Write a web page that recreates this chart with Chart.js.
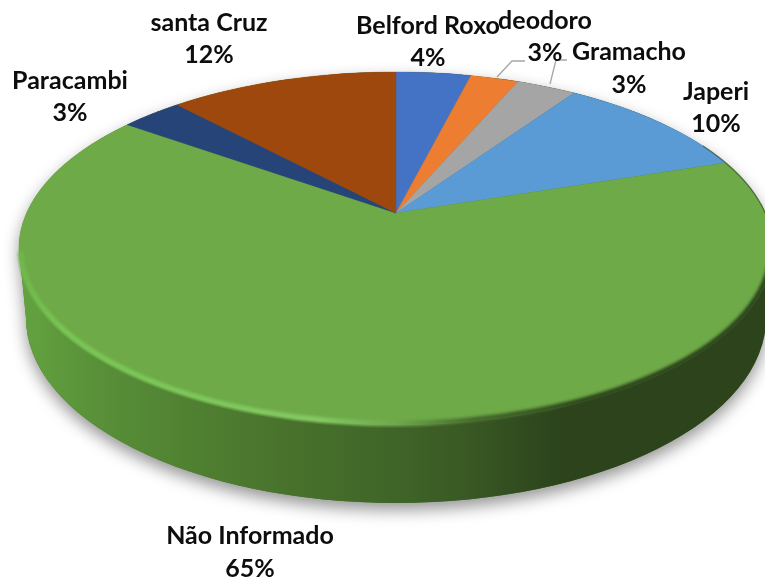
<!DOCTYPE html>
<html><head><meta charset="utf-8">
<style>html,body{margin:0;padding:0;background:#fff}canvas{display:block}</style>
<script src="https://cdn.jsdelivr.net/npm/chart.js@4"></script>
</head><body>
<canvas id="c" width="765" height="580"></canvas>
<script>
const categories = ["Belford Roxo","deodoro","Gramacho","Japeri","Não Informado","Paracambi","santa Cruz"];
const values = [3.9, 2.5, 3.1, 10.4, 65, 3.2, 11.9];
const colors = ["#4472c4","#ed7d31","#a5a5a5","#5b9bd5","#6eaa48","#264478","#9e480e"];

// Layout of the tilted disc (not data)
const P = {cx:396, cy:213, R:369.4, S:169.3, k:0.201};
const TOP = {cx:396, cy:248.5, rx:377, ry:176.5};
const BOT = {cx:396, cy:318, rx:370, ry:185};
const labelPos = [[428,26,58],[545,21,53],[629,52,85],[716,92,124],[250,536,569],[70,81,113],[209,23,55]];
const leaders = [[[497,77],[512,61],[525,61]],[[550,84],[556,60],[567,60]]];

function project(a){
  const u=Math.cos(a), v=Math.sin(a), w=1-P.k*v;
  return [P.cx+P.R*u/w, P.cy+P.S*v/w];
}
function ell(ctx,e){ctx.beginPath();ctx.ellipse(e.cx,e.cy,e.rx,e.ry,0,0,Math.PI*2);ctx.closePath();}
function hull(ctx){
  ctx.beginPath();
  ctx.ellipse(TOP.cx,TOP.cy,TOP.rx,TOP.ry,0,Math.PI,Math.PI*2);
  ctx.ellipse(BOT.cx,BOT.cy,BOT.rx,BOT.ry,0,0,Math.PI);
  ctx.closePath();
}

const disc3d = {
  id:'disc3d',
  beforeDatasetsDraw(chart){
    const ctx=chart.ctx, arcs=chart.getDatasetMeta(0).data;
    // soft ground shadow
    ctx.save();
    ctx.shadowColor='rgba(0,0,0,0.42)';ctx.shadowBlur=16;ctx.shadowOffsetY=7;
    ctx.fillStyle='#4a752d';hull(ctx);ctx.fill();
    ctx.restore();
    // side wall
    const g=ctx.createLinearGradient(19,0,773,0);
    [[0,'#63a340'],[0.11,'#588f38'],[0.24,'#4f7f31'],[0.33,'#4a752d'],[0.5,'#3f6428'],[0.59,'#3a5924'],[0.66,'#324d20'],[0.72,'#2c431c'],[1,'#2c431c']]
      .forEach(s=>g.addColorStop(s[0],s[1]));
    ctx.save();ctx.fillStyle=g;hull(ctx);ctx.fill();ctx.restore();
    // top face slices
    arcs.forEach((arc,i)=>{
      const a0=arc.startAngle,a1=arc.endAngle,n=Math.max(4,Math.ceil((a1-a0)*80));
      ctx.beginPath();ctx.moveTo(P.cx,P.cy);
      for(let j=0;j<=n;j++){const p=project(a0+(a1-a0)*j/n);ctx.lineTo(p[0],p[1]);}
      ctx.closePath();
      ctx.fillStyle=colors[i];ctx.fill();
      ctx.strokeStyle=colors[i];ctx.lineWidth=0.4;ctx.stroke();
    });
    // rim bevel
    ctx.save();
    ell(ctx,{cx:TOP.cx,cy:TOP.cy,rx:TOP.rx+3,ry:TOP.ry+3});ctx.clip();
    const b=ctx.createLinearGradient(19,0,773,0);
    [[0,'#70b84a'],[0.06,'#79c655'],[0.4,'#84c964'],[0.5,'#6fa84c'],[0.6,'#45692d'],[0.75,'#2d451c'],[1,'#2c431c']]
      .forEach(s=>b.addColorStop(s[0],s[1]));
    ctx.filter='blur(1.6px)';ctx.strokeStyle=b;ctx.lineWidth=5.5;
    ctx.beginPath();ctx.ellipse(TOP.cx,TOP.cy,TOP.rx-1.5,TOP.ry-1.5,0,0.0,Math.PI-0.02);ctx.stroke();
    ctx.filter='blur(0.6px)';ctx.strokeStyle='rgba(45,70,30,0.55)';ctx.lineWidth=1.4;
    ctx.beginPath();ctx.ellipse(TOP.cx,TOP.cy,TOP.rx,TOP.ry,0,-0.62,0);ctx.stroke();
    ctx.restore();
    return false;
  },
  afterDraw(chart){
    const ctx=chart.ctx, total=values.reduce((s,v)=>s+v,0);
    ctx.save();
    ctx.strokeStyle='#a6a6a6';ctx.lineWidth=1.3;
    leaders.forEach(l=>{ctx.beginPath();l.forEach((p,i)=>i?ctx.lineTo(p[0],p[1]):ctx.moveTo(p[0],p[1]));ctx.stroke();});
    ctx.fillStyle='#0d0d0d';ctx.font='bold 25px Lato';ctx.textAlign='center';ctx.textBaseline='middle';
    categories.forEach((c,i)=>{
      const p=labelPos[i];
      ctx.fillText(c,p[0],p[1]);
      ctx.fillText(Math.round(values[i]/total*100)+'%',p[0],p[2]);
    });
    ctx.restore();
  }
};

new Chart(document.getElementById('c'),{
  type:'pie',
  data:{labels:categories,datasets:[{data:values,backgroundColor:colors,borderWidth:0}]},
  options:{responsive:false,animation:false,
    plugins:{legend:{display:false},tooltip:{enabled:false}}},
  plugins:[disc3d]
});
</script>
</body></html>
